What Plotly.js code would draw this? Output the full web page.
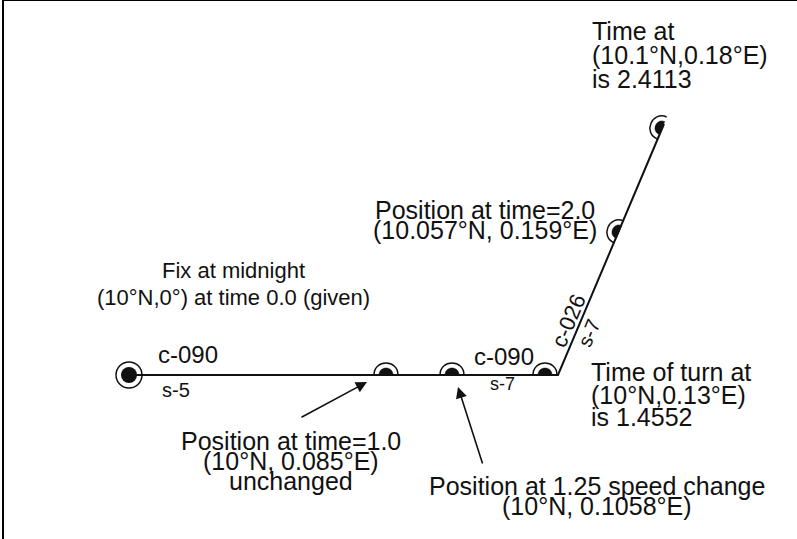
<!DOCTYPE html>
<html><head><meta charset="utf-8">
<script src="https://cdn.plot.ly/plotly-3.0.1.min.js"></script>
<style>html,body{margin:0;padding:0;background:#fff}#chart{width:797px;height:539px}</style>
</head><body><div id="chart"></div>
<script>
// Diagram positions (diagram pixel units, y downward)
const trackX = [129, 558, 664];
const trackY = [375, 375, 124];
const fixX = [129];
const fixY = [375];
const posX = [386, 452, 545, 619, 662];
const posY = [375, 375, 375, 232, 128];
const posSeg = [0, 0, 0, 1, 1];

// Text labels
const labelBlocks = [
  {lines: ["Fix at midnight", "(10°N,0°) at time 0.0 (given)"], x: 233, y: [270, 297], anchor: "center", size: 22},
  {lines: ["Position at time=1.0", "(10°N, 0.085°E)", "unchanged"], x: 291, y: [441, 461, 481], anchor: "center", size: 25},
  {lines: ["Position at 1.25 speed change", "(10°N, 0.1058°E)"], x: 597, y: [486, 506], anchor: "center", size: 25},
  {lines: ["Time of turn at", "(10°N,0.13°E)", "is 1.4552"], x: 590, y: [372, 395, 417], anchor: "left", size: 25},
  {lines: ["Position at time=2.0", "(10.057°N, 0.159°E)"], x: 485, y: [210, 230], anchor: "center", size: 25},
  {lines: ["Time at", "(10.1°N,0.18°E)", "is 2.4113"], x: 591, y: [31, 55, 79], anchor: "left", size: 25}
];
const legLabels = [
  {text: "c-090", x: 188, y: 354, size: 24, angle: 0},
  {text: "s-5", x: 176, y: 390, size: 20, angle: 0},
  {text: "c-090", x: 504, y: 356, size: 24, angle: 0},
  {text: "s-7", x: 502, y: 384, size: 18, angle: 0},
  {text: "c-026", x: 568, y: 321, size: 22, angle: -67},
  {text: "s-7", x: 589, y: 333, size: 20, angle: -67}
];
const arrowHeadX = [367, 458];
const arrowHeadY = [382, 387];
const arrowTailX = [300, 483];
const arrowTailY = [418, 465];

const FONT = "Liberation Sans, Arial, Helvetica, sans-serif";
const INK = "#111";

const shapes = [];
// full fix marker
fixX.forEach((x, i) => {
  const y = fixY[i];
  shapes.push({type: "circle", xref: "x", yref: "y", x0: x - 13, x1: x + 13, y0: y - 13, y1: y + 13,
    line: {color: INK, width: 1.5}, fillcolor: "rgba(0,0,0,0)"});
  shapes.push({type: "circle", xref: "x", yref: "y", x0: x - 8, x1: x + 8, y0: y - 8, y1: y + 8,
    line: {color: INK, width: 0}, fillcolor: INK});
});
// half markers (semicircles on the upper-left side of the track)
function semi(cx, cy, ux, uy, nx, ny, r, filled) {
  const k = 4 / 3 * r;
  const sx = cx - r * ux, sy = cy - r * uy, ex = cx + r * ux, ey = cy + r * uy;
  const p = `M ${sx},${sy} C ${sx + k * nx},${sy + k * ny} ${ex + k * nx},${ey + k * ny} ${ex},${ey}` + (filled ? " Z" : "");
  return {type: "path", xref: "x", yref: "y", path: p,
    line: {color: INK, width: filled ? 0.5 : 1.5}, fillcolor: filled ? INK : "rgba(0,0,0,0)"};
}
posX.forEach((x, i) => {
  const s = posSeg[i];
  let ux = trackX[s + 1] - trackX[s], uy = trackY[s + 1] - trackY[s];
  const L = Math.hypot(ux, uy); ux /= L; uy /= L;
  const nx = -Math.abs(uy), ny = -Math.abs(ux);
  shapes.push(semi(x, posY[i], ux, uy, nx, ny, 12, false));
  shapes.push(semi(x, posY[i], ux, uy, nx, ny, 7, true));
});

const annotations = [];
labelBlocks.forEach(b => {
  b.lines.forEach((t, j) => {
    annotations.push({x: b.x, y: b.y[j], xref: "x", yref: "y", text: t, showarrow: false,
      xanchor: b.anchor, yanchor: "middle", borderpad: 0,
      font: {family: FONT, size: b.size, color: INK}});
  });
});
legLabels.forEach(l => {
  annotations.push({x: l.x, y: l.y, xref: "x", yref: "y", text: l.text, showarrow: false, borderpad: 0,
    textangle: l.angle, xanchor: "center", yanchor: "middle", font: {family: FONT, size: l.size, color: INK}});
});
arrowHeadX.forEach((x, i) => {
  annotations.push({x: x, y: arrowHeadY[i], xref: "x", yref: "y", ax: arrowTailX[i], ay: arrowTailY[i],
    axref: "x", ayref: "y", text: "", showarrow: true, arrowhead: 2, arrowsize: 1.4, arrowwidth: 1.6, arrowcolor: INK});
});

const traces = [{x: trackX, y: trackY, mode: "lines", line: {color: INK, width: 2}, hoverinfo: "skip"}];

const layout = {
  width: 797, height: 539,
  margin: {l: 4, r: 0, t: 1, b: 0},
  paper_bgcolor: "#fff", plot_bgcolor: "#fff",
  showlegend: false,
  xaxis: {range: [4, 797], showgrid: false, zeroline: false, showticklabels: false, ticks: "",
    showline: true, side: "top", linecolor: "#000", linewidth: 2},
  yaxis: {range: [539, 1], showgrid: false, zeroline: false, showticklabels: false, ticks: "",
    showline: true, linecolor: "#000", linewidth: 2},
  shapes: shapes,
  annotations: annotations
};
Plotly.newPlot("chart", traces, layout, {staticPlot: true, displayModeBar: false});
</script></body></html>
